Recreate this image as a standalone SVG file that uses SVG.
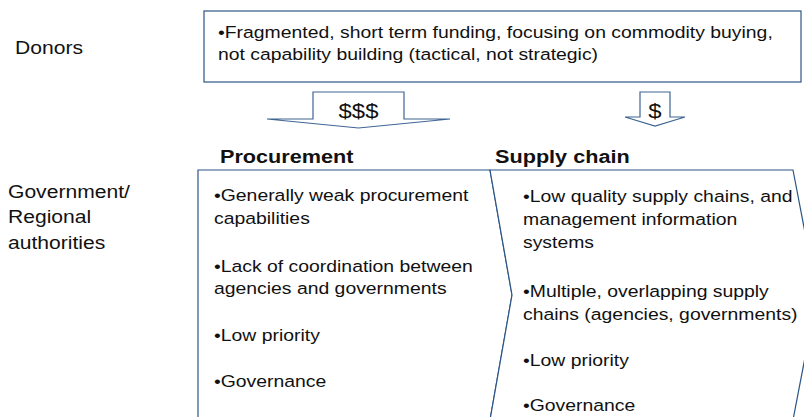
<svg xmlns="http://www.w3.org/2000/svg" width="804" height="417" viewBox="0 0 804 417">
<style>
.t{font-family:"Liberation Sans",Arial,sans-serif;font-size:17px;fill:#111}
.l{font-family:"Liberation Sans",Arial,sans-serif;font-size:18.5px;fill:#111}
.b{font-family:"Liberation Sans",Arial,sans-serif;font-size:19px;font-weight:bold;fill:#111}
.d{font-family:"Liberation Sans",Arial,sans-serif;font-size:21px;fill:#111;text-anchor:middle}
.s{fill:#fff;stroke:#2b5586;stroke-width:1.2}
.a{fill:#fff;stroke:#3f6594;stroke-width:1.2}
</style>
<rect width="804" height="417" fill="#fff"/>
<g id="labels">
<g transform="translate(15,0) scale(1.14,1)"><text class="l" x="0" y="54">Donors</text></g>
<g transform="translate(8,0) scale(1.14,1)">
<text class="l" x="0" y="198">Government/</text>
<text class="l" x="0" y="223">Regional</text>
<text class="l" x="0" y="249">authorities</text>
</g>
</g>
<g id="donors-box">
<rect class="s" x="204" y="11" width="597" height="71"/>
<g transform="translate(218,0) scale(1.14,1)">
<text class="t" x="0" y="38">•Fragmented, short term funding, focusing on commodity buying,</text>
<text class="t" x="0" y="60">not capability building (tactical, not strategic)</text>
</g>
</g>
<g id="connectors">
<path class="a" d="M313,92 H404 V119 H450 L358.5,128 L267,119 H313 Z"/>
<g transform="translate(358.5,0) scale(1.14,1)"><text class="d" x="0" y="118">$$$</text></g>
<path class="a" d="M640,92 H670 V117 H685 L655,126 L625,117 H640 Z"/>
<g transform="translate(655,0) scale(1.14,1)"><text class="d" x="0" y="118">$</text></g>
</g>
<g id="procurement">
<g transform="translate(220,0) scale(1.14,1)"><text class="b" x="0" y="163">Procurement</text></g>
<path class="s" d="M198,170 H490 L512,295 L490,420 H198 Z"/>
<g transform="translate(214,0) scale(1.14,1)">
<text class="t" x="0" y="201">•Generally weak procurement</text>
<text class="t" x="0" y="224">capabilities</text>
<text class="t" x="0" y="272">•Lack of coordination between</text>
<text class="t" x="0" y="294">agencies and governments</text>
<text class="t" x="0" y="341">•Low priority</text>
<text class="t" x="0" y="387">•Governance</text>
</g>
</g>
<g id="supply-chain">
<g transform="translate(495,0) scale(1.14,1)"><text class="b" x="0" y="163">Supply chain</text></g>
<path class="s" d="M490,170 H793 L817,295 L793,420 H490 L512,295 Z"/>
<g transform="translate(523,0) scale(1.14,1)">
<text class="t" x="0" y="202">•Low quality supply chains, and</text>
<text class="t" x="0" y="225">management information</text>
<text class="t" x="0" y="248">systems</text>
<text class="t" x="0" y="297">•Multiple, overlapping supply</text>
<text class="t" x="0" y="320">chains (agencies, governments)</text>
<text class="t" x="0" y="366">•Low priority</text>
<text class="t" x="0" y="411">•Governance</text>
</g>
</g>
</svg>
